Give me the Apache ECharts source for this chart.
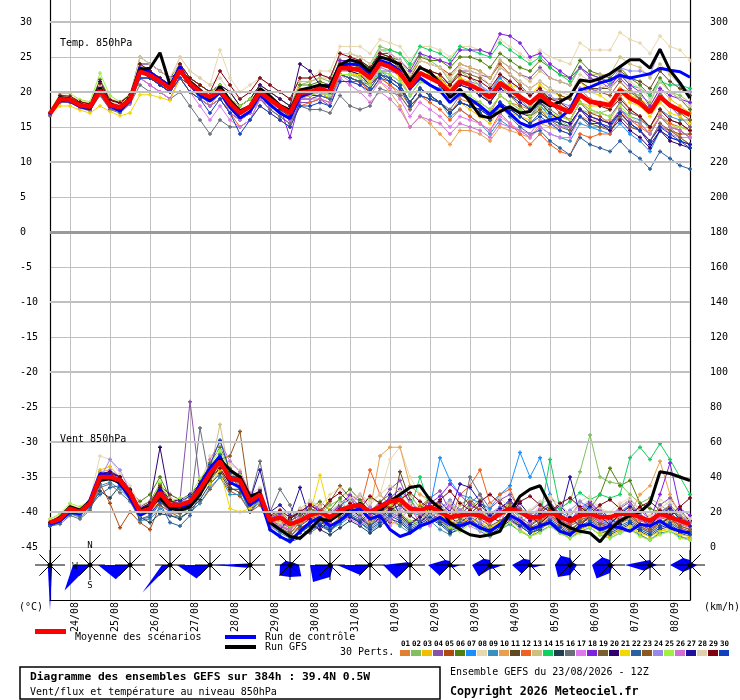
<html>
<head>
<meta charset="UTF-8"/>
<title>GEFS 850hPa - 39.4N 0.5W</title>
<script type="text/javascript" src="https://cdn.jsdelivr.net/npm/echarts@6/dist/echarts.min.js"></script>
<style type="text/css">
  body { margin: 0; background: #fff; }
  #chart { width: 740px; height: 700px; }
</style>
</head>
<body>
<div id="chart"></div>
<script type="text/javascript">

// echeances toutes les 6h, du 23/08 12Z au 08/09 12Z (384h)
var days = ["24/08","25/08","26/08","27/08","28/08","29/08","30/08","31/08",
            "01/09","02/09","03/09","04/09","05/09","06/09","07/09","08/09"];
var leftTicks = { min: -45, max: 30, step: 5 };     // (°C)
var rightTicks = { min: 0, max: 300, step: 20 };   // (km/h)
var majorLevels = [-40, -30, -20, -10, 10, 20, 30];

// temperature 850hPa (°C)
var tMean = [16.9,19.0,18.9,18.1,17.9,20.2,18.1,17.8,18.9, 22.9,22.4,21.5,20.5,23.1,21.2,20.0,19.3,20.2,18.4,17.0,17.9, 20.0,18.9,17.9,17.0,19.9,20.0,20.5,20.0,23.4,23.4,23.1,22.0, 24.1,23.6,22.7,20.7,22.7,22.0,21.3,19.9,21.5,21.0,20.3,19.2, 21.3,20.3,19.3,18.4,19.6,18.4,17.7,17.1,19.6,18.6,18.4,18.1, 20.3,19.1,18.4,17.1,19.3,18.1,17.4,16.7];
var tCtrl = [16.9,18.8,18.7,17.9,17.6,20.5,18.0,17.3,18.8, 23.5,22.8,21.8,20.9,23.6,21.0,19.5,18.7,19.9,17.8,16.3,17.2, 19.6,18.2,17.0,16.2,19.3,19.8,20.8,20.9,23.8,24.0,23.9,22.6, 24.5,24.0,23.0,20.5,22.0,21.0,20.2,18.5,19.8,19.0,18.0,16.8, 18.2,16.9,15.6,15.0,15.6,16.0,16.3,17.5,20.3,20.7,21.3,21.7, 22.4,22.0,22.3,22.6,23.4,23.1,22.9,22.1];
var tGfs = [16.9,19.2,19.0,18.3,17.7,20.6,18.4,17.6,19.2, 23.2,23.4,25.6,21.0,23.0,21.5,20.3,19.0,20.8,18.8,17.3,18.0, 20.5,19.4,18.1,17.4,20.3,20.6,21.0,20.8,23.9,24.6,24.2,22.9, 25.0,24.6,23.9,21.6,23.5,22.8,21.3,19.2,20.4,18.6,16.6,16.3, 17.2,17.9,17.0,17.2,18.9,18.0,18.6,19.4,21.7,21.5,21.9,22.6, 23.6,24.6,24.6,23.4,26.1,23.1,21.3,19.1];

var t01 = [17.0,19.3,19.0,18.4,18.0,20.8,18.5,18.0,19.5, 24,23,22,21,23,21,20,18,20,17,16,17, 20,18.5,17.5,16.5,19.5,19.5,20,19,22.5,22,21.5,20, 22,21,20,18,19.5,19,18.5,17,19,18.5,18,17, 19.5,18.5,18,17.5,19,18.5,18,17.5,20.5,19,18.5,17.5, 19.5,17.5,16.5,14.5,16.5,15,13.5,12.5];
var t02 = [16.8,18.8,18.7,18.0,17.5,20.0,18.2,17.6,18.6, 22,22,21,20,24,22,21,20,21,19,18,19, 21,20,19,18,21,21.5,22,21.5,25.5,25.5,25,24, 26.5,26,25.5,23.5,25.5,24.5,23.5,21.5,23,22,21,19.5, 22.5,21,19.5,18,18.5,17,16,15,17.5,17,17,17.5, 20.5,20,19.5,18.5,21.5,20,19.5,18.5];
var t03 = [17.1,19.5,19.4,18.6,18.2,21.0,18.8,18.3,19.2, 23,23,22,21,24,22,21,20,21,19,18,19, 20,19,18,17,20.5,20.5,21,21,24.5,24,23.5,22, 24.5,23.5,22,19.5,20.5,19.5,18.5,17,18.5,17.5,16.5,15.5, 17.5,17,16.5,16,17.5,16.5,16.5,16,18.5,18,18,18, 20.5,19.5,19,18,20.5,19,18,17];
var t04 = [16.7,18.6,18.5,17.7,17.3,19.6,17.6,17.2,18.4, 22,21,20,19,22,20,19,18,19,17,16,17, 19,17.5,16.5,15.5,18.5,18.5,19,18,21.5,21.5,21.5,21, 23,23,22.5,20.5,22.5,22.5,22,21,23,23,22.5,22, 24.5,23.5,22.5,22,23.5,22,21.5,21,23.5,22,21.5,20.5, 22,20.5,19,17.5,20,18,16.5,15];
var t05 = [17.0,19.1,19.0,18.2,18.0,20.4,18.2,17.9,19.0, 23,22,21,20,22,20,19,18,19,17,16,17, 20,19,18,17,20,20,20.5,20,23.5,23.5,23.5,22.5, 25,24.5,24,22,24.5,24,23.5,22.5,24,23.5,23,22, 24,22.5,21,19.5,20.5,18.5,17,16,18.5,17,16.5,15.5, 17,15.5,14.5,13,15,14.5,14,14];
var t06 = [16.8,19.4,19.2,18.5,18.2,21.8,19.0,18.5,19.5, 25,24,23,22,24,22,21,20,21,20,18,19, 21,20,19,18,21,21,21.5,21,24.5,24.5,24.5,23.5, 25.5,25,24.5,22.5,25,24.5,24.5,23.5,25,25,24.5,23.5, 25.5,24.5,23.5,23,24.5,23.5,22.5,22,24.5,23,22.5,22, 23.5,22,21,19.5,22,20,19,17.5];
var t07 = [16.9,18.9,18.8,18.0,17.8,20.0,17.9,17.5,18.7, 22,22,21,20,23,21,20,19,20,18,17,18, 20,19,18,17,19.5,19.5,20,19.5,22.5,22.5,22,21, 23,22.5,21.5,19.5,21.5,21,20.5,19.5,21.5,21,20.5,20, 22,20.5,19,17.5,18,16.5,15.5,14.5,16.5,15,14.5,14, 15.5,14,13,11.5,14.5,13.5,13,12.5];
var t08 = [17.2,19.6,19.5,18.8,18.4,21.2,19.1,18.6,19.8, 24,23,22,21,25,23,22,21,26,22,20,21, 22,21,20,19,22,22,23,23,26.5,26.5,26.5,25.5, 27.5,27,26.5,24.5,26.5,26.5,26,25,26.5,26.5,26,25.5, 27.5,26.5,25.5,24.5,26,25,24.5,24,27,26,26,26, 28.5,27.5,27,25.5,28,26.5,26,24.5];
var t09 = [16.8,19.2,19.1,18.3,18.1,20.6,18.3,18.0,19.0, 23,23,22,21,23,21,20,19,20,18,17,18, 20,19,18,17,20,20,20.5,20,23,23,22.5,21, 23,22,21,18.5,20.5,19.5,18.5,16.5,17.5,16.5,15.5,14, 16,15,14.5,13.5,15,14,13.5,13,15.5,15,15,15, 17.5,16.5,16,15,17.5,16.5,16,16];
var t10 = [17.0,19.0,18.8,18.1,17.7,20.3,18.0,17.7,18.8, 23,22,21,20,22,20,19,18,19,17,16,17, 19,18,17,16,19,19.5,20.5,20,23.5,23,22,20, 21.5,20,18,15,16.5,15.5,14,12.5,14.5,14.5,14,13, 15,14.5,14,13.5,15.5,15,14.5,14,16.5,16,16,16, 18.5,17,16.5,15,17,15.5,14.5,13.5];
var t11 = [16.6,18.7,18.6,17.8,17.4,19.8,17.7,17.3,18.5, 22,22,21,20,22,21,20,19,20,18,17,18, 20,19,18,17,20,20.5,21,20.5,24,24,23.5,22.5, 25,24.5,23.5,21.5,23.5,22.5,21.5,20,21,20.5,19.5,18.5, 20.5,19.5,19,18.5,20,19,19,19,21.5,20.5,20.5,20.5, 23,22,21.5,20.5,23,21.5,20.5,19.5];
var t12 = [17.1,19.2,19.1,18.3,18.0,20.5,18.3,17.7,18.8, 23,22,21,20,22,20,19,18,19,17,15,16, 18,17,16,15,18,18.5,19,18.5,22.5,22,21.5,20, 22,21,19.5,17.5,19.5,18.5,17.5,16,17.5,16.5,15.5,14.5, 17,15.5,14,12.5,14,12.5,11.5,11,14,13.5,14,14, 17,16,15,14,16.5,15.5,15,14.5];
var t13 = [16.9,19.1,19.0,18.2,17.8,20.4,18.1,17.6,18.7, 23,22,21,21,24,22,21,20,21,19,18,19, 21,20,19,18,21.5,21.5,22,22,25.5,25.5,25,24, 26,25.5,24.5,22.5,24.5,24,23.5,22,24,23.5,23,22, 24.5,23.5,22.5,21.5,23,22,21.5,21,23.5,22.5,22.5,22.5, 25,24,23.5,22,24,22.5,21,20];
var t14 = [17.0,19.0,18.9,18.2,18.0,20.3,18.1,17.9,19.0, 23,22,21,20,23,21,20,19,20,18,17,18, 20,19,18,17,20,20,20.5,20,23.5,24,24,23.5, 26,26,25.5,24,26.5,26,25.5,24.5,26.5,26,25.5,25, 27,26,25,24,25,23.5,22.5,21.5,23.5,22.5,22,21.5, 22.5,21,20.5,19.5,21.5,21,21,20.5];
var t15 = [16.8,18.9,18.8,18.0,17.7,20.1,18.0,17.5,18.6, 22,22,21,20,22,21,20,19,20,18,17,18, 20,19,17.5,16.5,19.5,19.5,19.5,19,22.5,22,21.5,20.5, 22.5,21.5,20.5,18.5,20.5,19.5,18.5,17,18.5,18,17,16, 18.5,17.5,16.5,15.5,17,16,15.5,15,17.5,16.5,16,15.5, 17.5,16,15.5,14,16.5,15,14.5,13.5];
var t16 = [16.7,18.5,18.6,17.8,17.4,19.5,17.5,17.0,18.3, 21,20,20,19,20,18,16,14,16,15,15,16, 19,17.5,16.5,15.5,18,17.5,17.5,17,19.5,18,17.5,18, 20.5,20,19.5,17.5,19.5,19,18.5,17.5,19.5,19,18.5,17.5, 19.5,18.5,17.5,16.5,18.5,17.5,16.5,16,18.5,17.5,17,16.5, 18.5,17,16.5,15,17.5,16,15.5,14.5];
var t17 = [16.9,18.9,18.7,17.9,17.6,20.0,17.8,17.4,18.5, 22,21,20,19,22,20,18,16,18,16,15,16, 19,18,17,16,19,19,19.5,19,22.5,21.5,21,19.5, 21.5,20.5,19,16.5,18.5,17.5,16.5,15,16.5,16,15.5,14.5, 16.5,15.5,14.5,13.5,15,14,13.5,13.5,16.5,15.5,15.5,15, 16.5,15,14.5,13,15.5,14,13.5,13.5];
var t18 = [17.0,19.3,19.2,18.4,18.1,20.7,18.4,18.1,19.2, 23,23,22,21,24,22,21,20,21,19,17,18, 20,19,18,13.5,19,20,21,21,24.5,24.5,24,23, 25.5,25.5,24.5,23,25.5,25,24.5,24,26,26,26,25.5, 28.3,28,27,25,25.5,24,23,22,23.5,22.5,22,21, 22.5,21,20,18,20.5,19.5,19,18.5];
var t19 = [16.8,19.0,18.9,18.1,17.9,20.2,18.0,17.6,18.8, 23,22,21,20,22,21,20,19,20,18,17,18, 20,19,18,17,19.5,19.5,20,19,22.5,22.5,22.5,21.5, 24,23.5,23,21.5,23.5,22.5,22,20.5,22,21,20,18.5, 21,19.5,18,16.5,17.5,16,15,14.5,16.5,15.5,15,14.5, 16.5,15,14.5,13,15.5,14.5,13.5,12.5];
var t20 = [17.1,19.4,19.3,18.5,18.3,21.5,18.8,18.4,19.6, 24,24,23,22,23,22,21,20,21,20,18,19, 21,20,19,18,24,23,21,20.5,23.5,23,22.5,21, 22.5,22,21,18.5,20.5,19.5,18.5,17,18.5,18,17.5,16.5, 18.5,17.5,17,16.5,18,17,16,15.5,17.5,16,15.5,14.5, 16,14.5,13.5,12,14.5,13,12.5,12];
var t21 = [17.0,18.0,18.0,17.4,17.0,18.0,17.2,16.6,17.0, 19.6,19.6,19.2,18.8,22,20,19,18,19,17,16,17, 20,19,18,17,19.5,19.5,20,19,22.5,22.5,22.5,21.5, 24,23.5,23,21.5,23.5,22.5,22,20.5,22,21.5,20.5,19.5, 21.5,21,20.5,19.5,21,20,19.5,19,21.5,20,19.5,18.5, 20,18.5,18,16.5,18.5,17,16.5,15.5];
var t22 = [16.9,19.1,19.0,18.2,17.9,20.4,18.1,17.8,18.9, 23,22,21,20,23,21,19,18,19,17,16,17, 19,18,17,16,19,19,19.5,19,22.5,22,21.5,20.5, 22.5,22,21,18.5,20.5,19.5,18.5,17,18.5,18,17,16, 18,16.5,15,14,14.5,13,12,11,13.5,12.5,12,11.5, 13,11.5,10.5,9,11.5,10.5,9.5,9];
var t23 = [17.0,19.0,18.8,18.0,17.8,20.1,18.2,17.7,18.8, 23,22,21,20,23,21,20,19,20,18,17,18, 20,19,18,17,20,20,20.5,20,23.5,23.5,23,22, 24.5,24,23.5,21.5,23.5,23,22.5,21,23,22.5,22,21, 23.5,22.5,21.5,20.5,21.5,20.5,19.5,19,21.5,20.5,20,19.5, 21.5,20,19,17.5,19.5,18,17,16];
var t24 = [16.8,19.2,19.0,18.3,18.0,20.4,18.3,17.9,19.0, 22,22,21,20,23,21,20,19,20,18,17,18, 20,19,18,17,19.5,19.5,20,19.5,22.5,22.5,22,21, 23.5,23,22.5,20.5,22.5,22,21.5,20,21.5,21.5,21,20, 22.5,21.5,20.5,19.5,20.5,19.5,18.5,18,20.5,20,20.5,21, 23.5,23,23,22.5,26,23,21,20];
var t25 = [17.2,19.8,19.8,18.9,18.6,22.7,19.5,18.6,19.6, 24,23,22,21,24,22,21,20,21,19,18,19, 20,19,18,17,19.5,19.5,20,19.5,22.5,22.5,22,21, 23,22.5,21.5,19.5,21.5,21,20,18.5,20,19.5,18.5,17.5, 19.5,18.5,17.5,16.5,18,17,16.5,16,18.5,17.5,17,16.5, 18,16.5,15.5,14,16.5,15,15,14.5];
var t26 = [16.9,18.8,18.7,17.9,17.6,19.8,17.7,17.3,18.4, 22,21,20,20,22,20,19,18,19,17,16,17, 19,18,17,16,19,19,19,18.5,22,21,20,18.5, 20,19,17.5,15,16.5,16,15.5,14,15.5,15,14.5,13.5, 15.5,15,14.5,14,16,15.5,15,15,17.5,16.5,16,15.5, 17.5,16,15.5,14,16.5,15,14.5,13.5];
var t27 = [17.0,19.2,19.1,18.3,18.0,20.5,18.2,17.8,18.9, 23,22,21,20,23,21,20,19,20,18,17,18, 20,19,18,17,20,20,20.5,20,23.5,23.5,23,22, 24,23.5,22.5,20.5,22.5,22,21,19.5,21,20.5,19.5,18.5, 20.5,19.5,18.5,17.5,18.5,17,16,15.5,17.5,16.5,16,15.5, 17,15.5,14.5,12.5,14.5,13.5,13,12.5];
var t28 = [17.1,19.4,19.3,18.5,18.1,20.9,18.6,18.2,19.3, 25,24,23,22,25,23,22,21,22,20,19,20, 22,21,20,19,22,22,22.5,22,25.5,25.5,25,24, 26,25.5,24.5,22.5,24.5,24,23.5,22,23.5,23,22.5,21, 23.5,22.5,21.5,20.5,21.5,20.5,20,19.5,22.5,21.5,21,20.5, 22.5,21.5,20.5,19,21.5,20,19,18];
var t29 = [17.0,19.5,19.4,18.6,18.3,21.2,18.9,18.5,19.6, 24,23,22,21,24,22,21,20,23,21,19,20, 22,21,20,19,22,22,22.5,22,25.5,25,24.5,23.5, 25.5,25,24,21.5,23.5,23,22.5,21,22.5,22,21.5,20.5, 22.5,21.5,20.5,19.5,20.5,19,18.5,17.5,19.5,18.5,18,17.5, 19,17.5,16.5,15,17.5,16,15.5,14.5];
var t30 = [16.9,18.9,18.8,18.0,17.6,20.0,17.8,17.2,18.6, 22,22,21,20,22,20,19,17,19,17,14,16, 18,17,16,15,18,18,18.5,18,21.5,21.5,21,20, 22,21.5,20.5,18,19.5,19,18.5,17,18.5,18,17.5,16.5, 18.5,17.5,16.5,15.5,16.5,15.5,14.5,14,16.5,15.5,15.5,15, 17,15.5,14.5,13,15,14,13,12];

// vent 850hPa (km/h)
var wMean = [14,16,22,20,25,40,40,38,31, 20,22,31,24,24,26,33,42,49,39,38,26, 30,15,17,13,15,18,20,17,21,23,24,20, 23,26,27,22,21,23,20,17,18,19,18,15, 19,22,20,17,17,20,17,15,18,19,17,17, 19,19,17,15,19,17,15,13];
var wCtrl = [13,15,20,19,27,42,41,36,28, 18,21,33,22,23,24,36,45,52,37,34,24, 28,10,6,3,9,14,17,12,15,20,22,16, 18,10,6,8,12,14,17,13,12,14,11,9, 13,18,15,10,12,14,9,7,12,13,10,12, 11,9,13,12,15,11,9,8];
var wGfs = [14,17,23,21,26,38,39,37,30, 21,23,28,22,21,23,30,40,50,44,40,29, 31,14,10,6,5,10,16,15,19,22,25,20, 21,26,30,34,35,27,22,14,10,7,6,7, 9,20,29,33,35,24,14,11,9,8,3,10, 15,18,20,25,43,42,40,38];

var w01 = [13,15,20,19,24,38,42,36,28, 18,20,30,22,25,27,35,45,52,40,36,24, 28,13,10,8,12,20,24,15,18,26,23,14, 18,25,30,22,14,20,25,15,12,18,22,10, 14,24,18,9,13,22,17,8,12,20,14,10, 17,22,12,8,15,20,11,7];
var w02 = [14,17,23,21,26,42,40,39,33, 22,24,33,26,22,25,31,40,47,41,39,27, 31,16,20,17,19,22,18,24,27,20,25,28, 25,20,28,30,22,17,21,26,19,23,27,20, 21,24,22,19,20,23,22,26,43,64,40,37, 36,30,25,28,24,20,18,15];
var w03 = [15,16,21,20,27,44,46,40,30, 19,21,29,22,23,24,32,41,48,38,37,25, 29,14,16,12,14,17,18,19,20,22,24,19, 22,15,12,18,24,20,14,10,16,21,13,9, 12,17,10,6,11,16,9,5,10,14,8,6, 9,12,7,4,9,11,6,5];
var w04 = [13,16,22,20,25,39,41,38,31, 21,23,32,25,27,83,36,44,50,41,38,27, 33,17,12,9,17,25,22,13,23,30,26,18, 25,33,38,24,18,28,32,20,17,25,30,22, 27,30,22,15,20,26,18,14,21,25,19,15, 22,26,18,13,24,28,20,15];
var w05 = [14,15,19,18,23,36,25,11,20, 14,10,24,20,17,20,25,33,40,32,29,20, 24,12,9,6,11,14,18,12,16,19,22,15, 20,23,19,14,17,20,15,11,13,16,12,9, 14,18,15,10,12,17,13,9,14,16,12,10, 14,16,12,9,13,15,11,9];
var w06 = [13,16,22,21,26,41,39,37,32, 26,30,40,28,20,22,30,48,57,45,34,22, 31,16,12,10,16,22,26,21,28,33,27,20, 26,30,24,18,22,27,21,16,24,28,20,17, 20,23,21,18,18,21,18,16,19,22,30,45, 35,38,25,22,20,18,16,14];
var w07 = [14,17,23,21,25,40,41,38,31, 20,22,31,24,24,26,33,42,49,39,38,26, 30,18,14,11,18,22,20,16,24,27,21,17, 21,24,29,20,18,23,51,38,30,28,25,22, 30,35,54,40,51,30,20,17,26,22,15,13, 18,24,16,12,20,23,15,11];
var w08 = [16,18,24,22,27,52,50,42,35, 24,26,35,28,26,28,36,52,55,47,44,30, 34,17,21,16,20,27,23,30,34,26,30,24, 30,50,57,40,30,25,22,19,24,27,20,17, 23,26,20,17,24,28,22,18,26,29,22,20, 25,28,21,18,27,24,19,16];
var w09 = [12,14,19,17,22,35,37,33,27, 15,16,22,18,17,20,25,34,40,30,30,20, 26,12,8,5,9,12,15,10,13,17,14,9, 13,17,12,8,11,15,10,7,12,14,9,6, 10,13,9,6,9,12,8,5,9,11,7,5, 8,10,7,4,8,9,6,4];
var w10 = [15,17,22,21,26,43,44,40,32, 22,24,33,26,25,27,35,44,51,41,40,28, 32,17,18,14,16,19,21,18,22,24,25,21, 52,57,57,35,30,27,22,20,18,19,18,15, 19,22,20,17,17,20,17,15,18,19,17,17, 19,19,30,35,49,30,18,15];
var w11 = [13,15,21,19,24,38,39,36,30, 22,25,35,30,27,22,38,46,44,34,31,30, 29,14,11,16,21,17,13,19,24,18,15,22, 18,14,43,27,20,15,19,24,17,13,18,14, 18,21,15,12,16,22,18,13,17,20,14,12, 16,19,13,10,17,20,14,11];
var w12 = [14,16,22,20,25,40,40,38,31, 20,22,31,24,24,26,33,42,49,39,38,26, 28,13,15,11,13,16,18,15,19,21,22,44, 30,24,25,20,19,21,18,15,30,35,44,25, 30,33,20,15,15,18,15,13,16,17,15,15, 17,17,15,13,17,15,13,11];
var w13 = [15,17,23,21,26,41,41,39,32, 21,23,32,25,25,27,34,43,70,40,39,27, 31,16,13,10,14,19,16,12,18,22,19,14, 19,22,18,13,16,21,17,12,15,19,14,11, 15,19,14,10,13,18,14,10,14,17,12,10, 13,16,11,8,13,15,10,8];
var w14 = [14,16,21,19,24,39,40,37,30, 19,21,30,23,23,25,32,41,48,38,37,25, 29,14,16,12,14,17,19,16,20,22,24,20, 22,25,26,21,40,22,19,16,17,18,17,14, 18,21,19,16,16,50,22,26,31,27,30,28, 30,51,57,50,59,50,40,30];
var w15 = [13,15,20,19,23,32,28,35,29, 17,14,19,18,16,21,27,36,42,33,33,21, 28,10,6,4,8,12,10,7,11,15,12,8, 12,16,14,9,12,16,13,8,10,14,11,7, 11,15,12,8,10,14,11,7,10,13,9,7, 10,13,9,6,10,12,8,6];
var w16 = [12,13,18,16,21,34,36,31,26, 16,18,26,20,20,22,68,37,50,44,38,27, 49,20,33,24,10,8,12,9,14,18,15,11, 15,19,16,11,14,18,15,10,13,40,30,15, 19,22,17,13,16,20,16,12,15,18,14,12, 15,18,13,10,14,17,12,10];
var w17 = [14,16,21,20,25,39,44,40,30, 20,22,30,24,24,30,35,44,52,40,36,25, 27,12,9,13,17,15,11,16,20,16,13,18, 15,12,17,21,16,12,18,23,16,12,9,14, 18,15,11,14,19,15,11,16,20,15,12,10, 14,18,13,10,16,19,14,11];
var w18 = [13,16,22,21,25,40,42,39,31, 21,23,31,25,24,26,33,42,49,39,38,26, 30,16,19,14,20,24,21,17,25,29,23,19, 24,28,33,26,20,25,29,36,30,24,21,18, 22,26,20,16,21,25,19,15,22,26,20,16, 23,27,21,16,30,48,22,18];
var w19 = [14,15,21,19,24,38,40,37,30, 23,26,36,20,19,28,35,38,45,36,42,30, 30,15,11,8,14,18,15,11,17,21,18,13, 18,22,19,14,17,22,18,13,16,20,16,12, 15,19,15,11,14,18,14,10,14,17,13,11, 14,17,13,10,14,16,12,10];
var w20 = [13,16,22,20,27,42,43,40,33, 22,25,57,26,27,30,36,44,50,40,40,28, 32,14,10,16,20,14,10,15,19,23,17,12, 17,21,24,18,14,19,23,17,13,19,24,18, 14,20,25,18,13,19,24,17,12,18,22,16, 13,19,23,16,12,18,21,15];
var w21 = [15,17,22,20,26,41,39,36,29, 18,20,27,22,23,25,31,36,44,22,20,22, 28,14,17,13,15,19,41,18,21,23,25,20, 23,26,25,20,19,22,18,15,14,16,14,11, 14,16,13,10,11,13,10,8,10,12,9,8, 10,12,8,6,9,10,7,6];
var w22 = [12,14,19,18,23,30,34,35,29, 16,17,25,14,12,18,30,44,53,42,33,20, 27,13,9,6,12,16,13,9,15,19,16,12, 16,20,17,12,15,19,16,11,14,18,13,10, 13,17,13,9,12,16,12,8,12,15,11,9, 12,15,11,8,12,14,10,8];
var w23 = [14,16,22,20,25,40,40,38,31, 20,22,31,24,24,26,33,42,50,52,66,26, 30,17,20,15,18,22,19,26,35,28,21,17, 22,27,24,19,23,28,22,17,21,26,20,16, 21,25,20,16,21,25,19,15,20,24,18,15, 20,24,18,14,20,23,17,14];
var w24 = [13,15,21,19,24,39,50,44,32, 21,23,32,25,25,27,34,43,49,39,38,26, 30,15,12,17,22,18,14,20,25,20,17,23, 19,16,22,26,20,16,22,27,21,17,14,19, 23,19,16,20,25,20,16,21,26,21,18,15, 20,24,19,15,20,24,18,14];
var w25 = [16,19,25,23,27,42,41,38,31, 18,24,37,26,28,29,39,47,55,44,41,29, 30,14,16,12,14,17,19,16,20,22,24,20, 22,24,20,15,13,17,14,11,9,13,10,7, 10,14,9,6,8,12,8,5,8,11,7,5, 8,10,6,4,7,9,5,4];
var w26 = [14,16,22,20,25,40,40,38,31, 23,20,28,19,21,24,31,50,60,49,43,31, 30,15,12,10,16,20,17,14,19,24,30,22, 18,15,20,24,19,14,19,24,20,15,12,17, 21,17,14,18,22,17,14,19,23,18,15,12, 17,21,16,12,18,22,16,12];
var w27 = [14,17,23,21,26,41,43,40,32, 22,24,33,26,25,27,34,44,50,40,39,27, 44,20,24,18,34,16,12,18,22,17,14,20, 17,30,18,13,17,22,26,20,36,34,26,18, 22,27,20,15,19,24,18,40,19,23,17,13, 19,23,17,12,19,22,16,12];
var w28 = [15,17,23,21,26,42,41,38,31, 21,23,32,25,25,27,34,43,49,39,38,26, 30,16,14,17,22,26,23,19,25,28,30,26, 30,35,32,25,22,18,21,25,19,16,20,24, 28,22,18,21,26,29,24,19,23,27,22,18, 23,27,21,17,22,26,20,16];
var w29 = [14,16,22,20,25,40,42,40,32, 19,25,34,27,23,25,32,40,45,36,35,24, 30,18,21,17,20,24,20,27,31,25,22,29, 25,22,27,31,26,22,27,32,25,21,26,30, 25,21,26,29,24,20,25,28,23,19,24,27, 22,18,23,26,21,18,23,28];
var w30 = [13,15,21,19,24,38,39,36,30, 21,19,26,21,26,29,35,47,61,43,40,27, 29,10,6,3,5,9,13,10,15,18,14,10, 14,18,15,10,13,17,14,9,12,16,11,8, 12,16,12,8,11,15,11,7,11,14,10,8, 11,14,10,7,11,13,9,7];

// roses de direction (a 12Z chaque jour) : N, NE, E, SE, S, SW, W, NW
var roseN  = [0,0,0,0,0,0,3,0,0,2,4,5,5,7,5,5,5];
var roseNE = [0,0,0,0,0,0,4,0,0,0,0,0,0,4,0,3,3];
var roseE  = [0,0,0,0,3,0,9,3,0,3,10,13,13,7,5,7,7];
var roseSE = [3,0,0,0,0,0,16,4,0,0,4,5,4,6,3,3,4];
var roseS  = [45,0,0,0,0,2,12,12,0,0,0,4,0,10,8,3,4];
var roseSW = [3,36,20,39,19,4,15,24,14,19,15,16,12,17,19,8,10];
var roseW  = [2,17,32,8,33,37,10,20,33,27,22,18,18,15,18,25,20];
var roseNW = [0,0,0,0,0,2,6,0,0,4,7,9,9,13,11,6,10];

var pertColors = ["#e08030","#80c060","#f0c000","#8850a8","#b04810","#508010","#1890ff","#e8d8b0","#3890c0","#e8a050",
                  "#604820","#f06020","#d0c080","#10d060","#204050","#687078","#e078f0","#8020e0","#786030","#300070",
                  "#f0d800","#2860a0","#8c5820","#9888e8","#a0f040","#d070d0","#2010a0","#e0d0b0","#800010","#1040c0"];

var pertTemp = [t01,t02,t03,t04,t05,t06,t07,t08,t09,t10,t11,t12,t13,t14,t15,t16,t17,t18,t19,t20,t21,t22,t23,t24,t25,t26,t27,t28,t29,t30];
var pertWind = [w01,w02,w03,w04,w05,w06,w07,w08,w09,w10,w11,w12,w13,w14,w15,w16,w17,w18,w19,w20,w21,w22,w23,w24,w25,w26,w27,w28,w29,w30];

var hours = [];
for (var h = 0; h <= 384; h += 6) hours.push(String(h));

var mono = "DejaVu Sans Mono";
var plus = "path://M1,0H2V1H3V2H2V3H1V2H0V1H1Z";
var isDay = function (i) { return i % 4 === 2; };

var chart = echarts.init(document.getElementById("chart"));

var series = [];

// lignes epaisses tous les 10 et separation des deux panneaux
series.push({
	type: "line", data: [], xAxisIndex: 0, yAxisIndex: 0, z: 1, silent: true,
	markLine: {
		silent: true, symbol: "none", animation: false,
		label: { show: false },
		lineStyle: { color: "#c0c0c0", width: 2, type: "solid" },
		emphasis: { disabled: true },
		data: majorLevels.map(function (v) { return { yAxis: v }; })
			.concat([{ yAxis: 0, lineStyle: { color: "#999999", width: 3, type: "solid" } }])
	}
});

function pertLine(arr, color, yIdx) {
	return {
		type: "line", data: arr, xAxisIndex: 0, yAxisIndex: yIdx,
		symbol: plus, symbolSize: 4, showAllSymbol: true,
		lineStyle: { width: 1, color: color }, itemStyle: { color: color },
		silent: true, emphasis: { disabled: true }, z: 2
	};
}
function mainLine(arr, color, width, yIdx, z) {
	return {
		type: "line", data: arr, xAxisIndex: 0, yAxisIndex: yIdx, symbol: "none",
		lineStyle: { width: width, color: color }, silent: true, emphasis: { disabled: true }, z: z
	};
}

for (var p = 0; p < 30; p++) {
	series.push(pertLine(pertTemp[p], pertColors[p], 0));
	series.push(pertLine(pertWind[p], pertColors[p], 1));
}
series.push(mainLine(tCtrl, "#0000ff", 3, 0, 3));
series.push(mainLine(wCtrl, "#0000ff", 3, 1, 3));
series.push(mainLine(tGfs, "#000000", 3, 0, 3));
series.push(mainLine(wGfs, "#000000", 3, 1, 3));
series.push(mainLine(tMean, "#ff0000", 4.5, 0, 4));
series.push(mainLine(wMean, "#ff0000", 4.5, 1, 4));

// roses des vents
var roseData = [];
for (var k = 0; k < roseN.length; k++) {
	roseData.push([k * 4, roseN[k], roseNE[k], roseE[k], roseSE[k], roseS[k], roseSW[k], roseW[k], roseNW[k]]);
}
series.push({
	type: "custom", xAxisIndex: 1, yAxisIndex: 2, data: roseData, clip: false, silent: true, z: 3,
	encode: { x: 0, y: 1 },
	renderItem: function (params, api) {
		var c = api.coord([api.value(0), 35]);
		var pts = [], kids = [];
		for (var d = 0; d < 8; d++) {
			var a = d * Math.PI / 4, r = api.value(d + 1);
			pts.push([c[0] + r * Math.sin(a), c[1] - r * Math.cos(a)]);
		}
		kids.push({ type: "polygon", shape: { points: pts }, style: { fill: "#0000ff" } });
		for (var d2 = 0; d2 < 8; d2++) {
			var b = d2 * Math.PI / 4;
			kids.push({ type: "line", shape: { x1: c[0], y1: c[1], x2: c[0] + 15 * Math.sin(b), y2: c[1] - 15 * Math.cos(b) },
				style: { stroke: "#000", lineWidth: 1 } });
		}
		kids.push({ type: "circle", shape: { cx: c[0], cy: c[1], r: 2.5 }, style: { fill: "#000" } });
		return { type: "group", children: kids };
	}
});

// textes et legende
function txt(s, x, y, font, align) {
	return { type: "text", z: 10, style: { text: s, x: x, y: y, font: font, fill: "#000",
		align: align || "left", verticalAlign: "middle" } };
}
var graphics = [
	txt("Temp. 850hPa", 60, 43, "10px " + mono),
	txt("Vent 850hPa", 60, 439, "10px " + mono),
	txt("N", 90, 546, "9px " + mono, "center"),
	txt("S", 90, 586, "9px " + mono, "center"),
	txt("W", 75, 567, "9px " + mono, "center"),
	txt("(°C)", 19, 607, "10px " + mono),
	txt("(km/h)", 704, 607, "10px " + mono),
	{ type: "rect", shape: { x: 35, y: 629, width: 31, height: 5 }, style: { fill: "#ff0000" } },
	txt("Moyenne des scénarios", 75, 637, "10px " + mono),
	{ type: "rect", shape: { x: 225, y: 635, width: 31, height: 4 }, style: { fill: "#0000ff" } },
	txt("Run de contrôle", 265, 637, "10px " + mono),
	{ type: "rect", shape: { x: 225, y: 645, width: 31, height: 4 }, style: { fill: "#000000" } },
	txt("Run GFS", 265, 647, "10px " + mono),
	txt("30 Perts.", 340, 652, "10px " + mono),
	{ type: "rect", shape: { x: 20, y: 667, width: 420, height: 32 }, style: { fill: "#fff", stroke: "#000", lineWidth: 1.5 } },
	txt("Diagramme des ensembles GEFS sur 384h : 39.4N 0.5W", 30, 677, "bold 11.3px " + mono),
	txt("Vent/flux et température au niveau 850hPa", 30, 692, "10px " + mono),
	txt("Ensemble GEFS du 23/08/2026 - 12Z", 450, 672, "10px " + mono),
	txt("Copyright 2026 Meteociel.fr", 450, 692, "bold 11.6px " + mono)
];
for (var q = 0; q < 30; q++) {
	var lab = (q < 9 ? "0" : "") + (q + 1);
	graphics.push(txt(lab, 405.5 + q * 11, 644, "bold 7.5px " + mono, "center"));
	graphics.push({ type: "rect", shape: { x: 400 + q * 11, y: 650, width: 10, height: 6 }, style: { fill: pertColors[q] } });
}

var gridLine = { show: true, interval: function (i) { return isDay(i); }, lineStyle: { color: "#c0c0c0", width: 1 } };

var option = {
	animation: false,
	backgroundColor: "#ffffff",
	grid: [
		{ left: 50, right: 50, top: 0, height: 547 },
		{ left: 50, right: 50, top: 547, height: 53 }
	],
	xAxis: [
		{ type: "category", gridIndex: 0, data: hours, boundaryGap: false,
		  axisLine: { show: false }, axisTick: { show: false }, axisLabel: { show: false }, splitLine: gridLine },
		{ type: "category", gridIndex: 1, data: hours, boundaryGap: false,
		  axisLine: { show: true, lineStyle: { color: "#000", width: 1.2 } }, axisTick: { show: false },
		  splitLine: gridLine,
		  axisLabel: { show: true, interval: function (i) { return isDay(i); }, rotate: 90, margin: 2,
			verticalAlign: "top", color: "#000", fontFamily: mono, fontSize: 10,
			formatter: function (v, i) { return days[(i - 2) / 4] || ""; } } }
	],
	yAxis: [
		{ type: "value", gridIndex: 0, position: "left", min: leftTicks.min, max: leftTicks.min + 547 / 7,
		  interval: leftTicks.step,
		  axisLine: { show: true, lineStyle: { color: "#000", width: 1.2 } }, axisTick: { show: false },
		  axisLabel: { showMaxLabel: false, align: "left", margin: 30, color: "#000", fontFamily: mono, fontSize: 10 },
		  splitLine: { show: true, showMaxLine: false, lineStyle: { color: "#c0c0c0", width: 1 } } },
		{ type: "value", gridIndex: 0, position: "right", min: rightTicks.min, max: 547 / 1.75,
		  interval: rightTicks.step,
		  axisLine: { show: true, lineStyle: { color: "#000", width: 1.2 } }, axisTick: { show: false },
		  axisLabel: { showMaxLabel: false, margin: 20, color: "#000", fontFamily: mono, fontSize: 10 },
		  splitLine: { show: false } },
		{ type: "value", gridIndex: 1, position: "left", min: 0, max: 53,
		  axisLine: { show: true, lineStyle: { color: "#000", width: 1.2 } }, axisTick: { show: false },
		  axisLabel: { show: false }, splitLine: { show: false } },
		{ type: "value", gridIndex: 1, position: "right", min: 0, max: 53,
		  axisLine: { show: true, lineStyle: { color: "#000", width: 1.2 } }, axisTick: { show: false },
		  axisLabel: { show: false }, splitLine: { show: false } }
	],
	series: series,
	graphic: graphics
};

chart.setOption(option);

</script>
</body>
</html>
